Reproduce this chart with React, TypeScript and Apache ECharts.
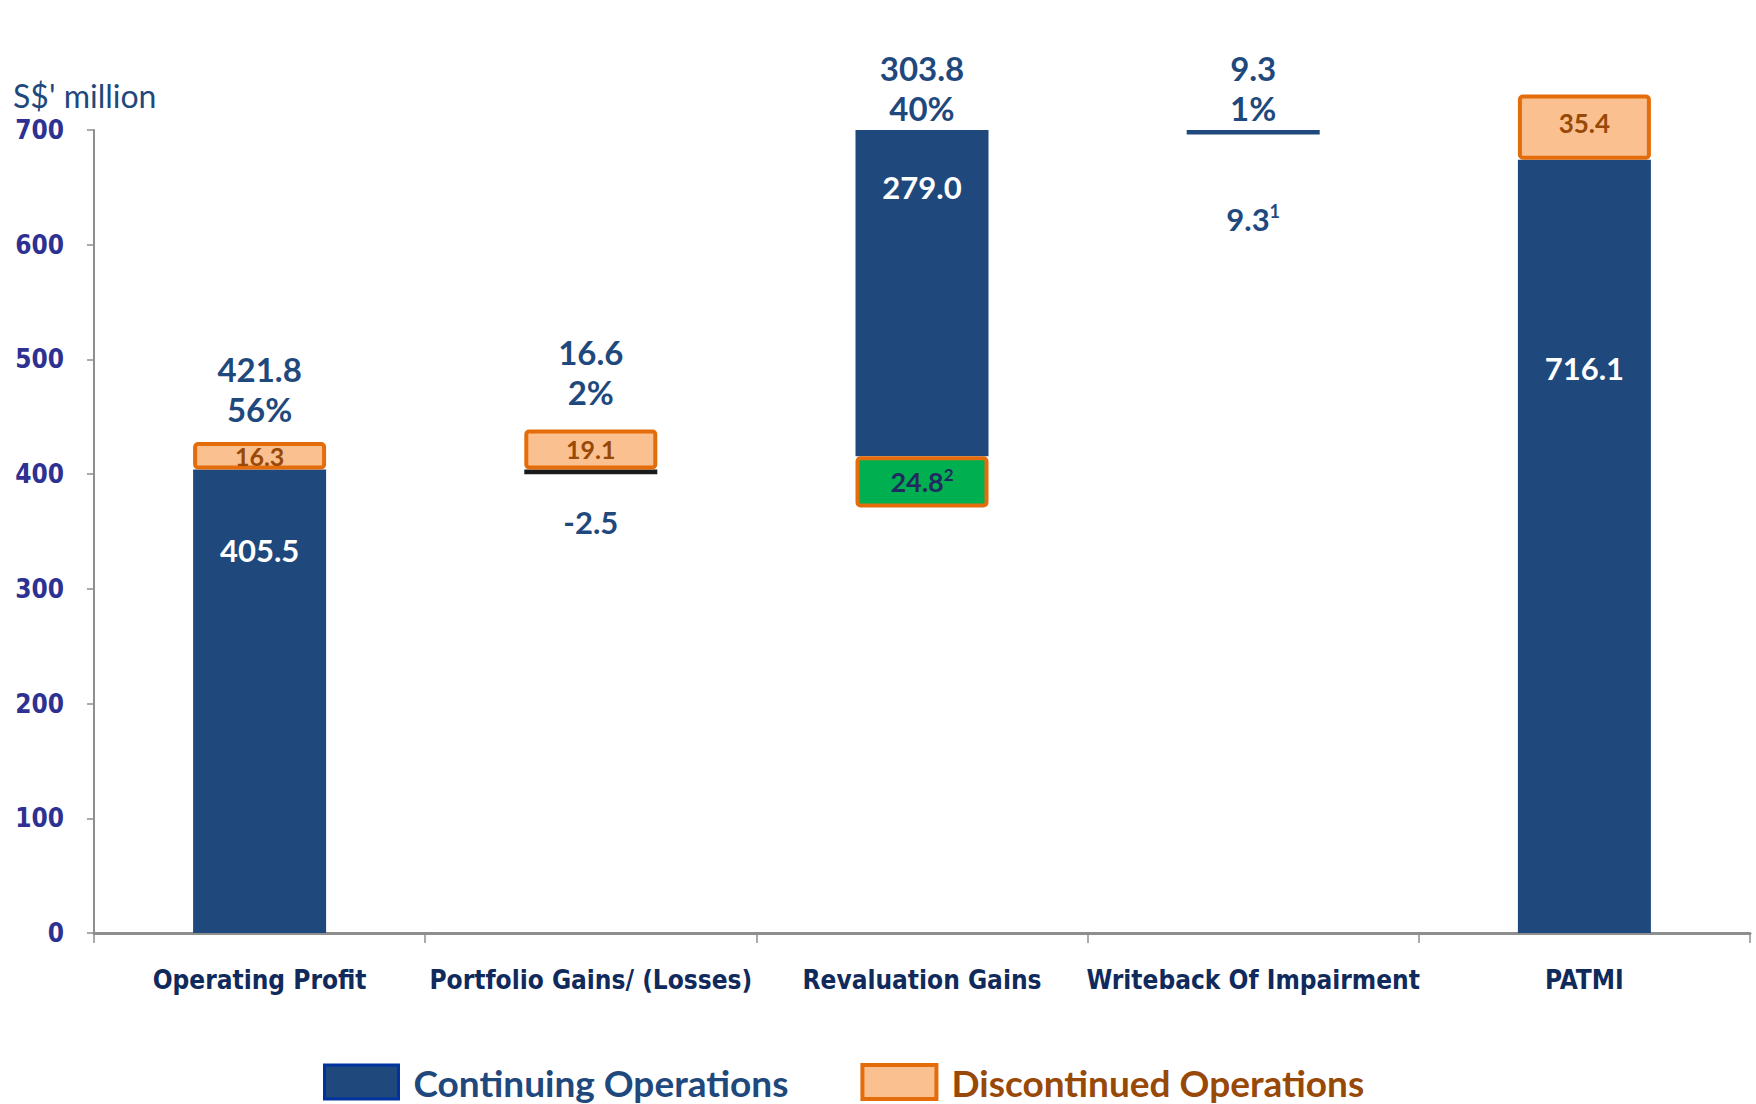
import React, { useEffect, useRef } from "react";
import * as echarts from "echarts";

// ---- data ----
const categories = [
  "Operating Profit",
  "Portfolio Gains/ (Losses)",
  "Revaluation Gains",
  "Writeback Of Impairment",
  "PATMI",
];
// drawn extents (in axis units) as they appear in the picture
const baseValues = [0, 400, 371, 696, 0];
const revalDiscValues: (number | null)[] = [null, null, 44.5, null, null];
const continuingValues = [404, 4, 284.5, 4, 674];
const discontinuedValues: (number | null)[] = [24, 35, null, null, 57];
const topValues = [428, 439, 700, 700, 731];
// printed figures
const totalLabels = ["421.8", "16.6", "303.8", "9.3", "751.5"];
const shareLabels = ["56%", "2%", "40%", "1%", "100%"];
const continuingLabels = ["405.5", "-2.5", "279.0", "9.3{s|1}", "716.1"];
const discontinuedLabels = ["16.3", "19.1", "", "", "35.4"];
const revalDiscLabels = ["", "", "24.8{s|2}", "", ""];

const BLUE = "#1F497D";
const ORANGE_FILL = "#FAC090";
const ORANGE_BORDER = "#E46C0A";
const BROWN = "#984807";
const LABEL_FONT = "Lato, 'Open Sans', 'DejaVu Sans', sans-serif";
const NARROW_FONT = "'Liberation Sans Narrow', 'DejaVu Sans Condensed', Roboto, 'Liberation Sans', sans-serif";

export default function App() {
  const ref = useRef<HTMLDivElement>(null);

  useEffect(() => {
    if (!ref.current) return;
    const chart = echarts.init(ref.current, undefined, { renderer: "svg" });

    const contOffsets = [80, 52, 57, 89, 208];
    const contColors = ["#FFFFFF", BLUE, "#FFFFFF", BLUE, "#FFFFFF"];
    const contItemColors = [BLUE, "#1A1A1A", BLUE, BLUE, BLUE];
    const topDistances = [13, 17, 2, 2, 8];
    const discFont = [25, 25, 25, 25, 26];
    const discOffsetY = [0, 0, 0, 0, -4];

    const option: any = {
      animation: false,
      backgroundColor: "#FFFFFF",
      title: {
        text: "S$' million",
        left: 8,
        top: 74,
        textStyle: { color: BLUE, fontSize: 32, fontWeight: "normal", fontFamily: LABEL_FONT },
      },
      legend: {
        left: 318,
        top: 1058,
        itemWidth: 74,
        itemHeight: 34,
        itemGap: 72,
        selectedMode: false,
        textStyle: { fontSize: 37, fontWeight: "bold", fontFamily: LABEL_FONT, padding: [0, 0, 0, 10] },
        data: [
          {
            name: "Continuing Operations",
            icon: "rect",
            itemStyle: { color: BLUE, borderColor: "#0033A0", borderWidth: 3 },
            textStyle: { color: BLUE },
          },
          {
            name: "Discontinued Operations",
            icon: "rect",
            itemStyle: { color: ORANGE_FILL, borderColor: ORANGE_BORDER, borderWidth: 4 },
            textStyle: { color: BROWN },
          },
        ],
      },
      grid: { left: 94, right: 6, top: 130, bottom: 171, containLabel: false },
      xAxis: {
        type: "category",
        data: categories,
        axisLine: { lineStyle: { color: "#8E8E8E", width: 3 } },
        axisTick: { show: true, length: 10, interval: 0, lineStyle: { color: "#8E8E8E", width: 1.5 } },
        axisLabel: {
          interval: 0,
          margin: 33,
          color: "#102A5C",
          fontSize: 26,
          lineHeight: 28,
          fontWeight: "bold",
          fontFamily: NARROW_FONT,
        },
      },
      yAxis: {
        type: "value",
        min: 0,
        max: 700,
        interval: 100,
        splitLine: { show: false },
        axisLine: { show: true, lineStyle: { color: "#8E8E8E", width: 2 } },
        axisTick: { show: true, length: 7, lineStyle: { color: "#8E8E8E", width: 1.5 } },
        axisLabel: {
          margin: 30,
          color: "#2E3192",
          fontSize: 26,
          fontWeight: "bold",
          fontFamily: NARROW_FONT,
        },
      },
      series: [
        {
          name: "base",
          type: "bar",
          stack: "w",
          barWidth: 133,
          silent: true,
          clip: false,
          itemStyle: { color: "rgba(0,0,0,0)" },
          data: baseValues,
        },
        {
          name: "Revaluation Discontinued",
          type: "bar",
          stack: "w",
          barWidth: 133,
          z: 4,
          clip: false,
          itemStyle: { color: "#00B050", borderColor: ORANGE_BORDER, borderWidth: 4, borderRadius: 3 },
          label: {
            show: true,
            position: "inside",
            color: "#1F2A60",
            fontSize: 27,
            fontWeight: "bold",
            fontFamily: LABEL_FONT,
            formatter: (p: any) => revalDiscLabels[p.dataIndex],
            rich: {
              s: { fontSize: 17, fontWeight: "bold", color: "#1F2A60", fontFamily: LABEL_FONT, padding: [0, 0, 14, 0] },
            },
          },
          data: revalDiscValues.map((v) => (v == null ? "-" : v)),
        },
        {
          name: "Continuing Operations",
          type: "bar",
          stack: "w",
          barWidth: 133,
          z: 2,
          clip: false,
          itemStyle: { color: BLUE },
          data: continuingValues.map((v, i) => ({
            value: v,
            itemStyle: { color: contItemColors[i] },
            label: {
              show: true,
              position: ["50%", contOffsets[i]],
              align: "center",
              verticalAlign: "middle",
              color: contColors[i],
              fontSize: 31,
              fontWeight: "bold",
              fontFamily: LABEL_FONT,
              formatter: continuingLabels[i],
              rich: {
                s: { fontSize: 18, fontWeight: "bold", color: contColors[i], fontFamily: LABEL_FONT, padding: [0, 0, 16, 0] },
              },
            },
          })),
        },
        {
          name: "Discontinued Operations",
          type: "bar",
          stack: "w",
          barWidth: 133,
          z: 4,
          clip: false,
          itemStyle: { color: ORANGE_FILL, borderColor: ORANGE_BORDER, borderWidth: 4, borderRadius: 3 },
          data: discontinuedValues.map((v, i) =>
            v == null
              ? "-"
              : {
                  value: v,
                  label: {
                    show: true,
                    position: "inside",
                    offset: [0, discOffsetY[i]],
                    color: BROWN,
                    fontSize: discFont[i],
                    fontWeight: "bold",
                    fontFamily: LABEL_FONT,
                    formatter: discontinuedLabels[i],
                  },
                }
          ),
        },
        {
          name: "totals",
          type: "scatter",
          symbolSize: 0,
          silent: true,
          z: 5,
          itemStyle: { color: BLUE, opacity: 1 },
          data: topValues.map((v, i) => ({
            value: v,
            label: {
              show: true,
              position: "top",
              distance: topDistances[i],
              color: BLUE,
              opacity: 1,
              fontSize: 33,
              lineHeight: 40,
              fontWeight: "bold",
              fontFamily: LABEL_FONT,
              align: "center",
              formatter: totalLabels[i] + "\n" + shareLabels[i],
            },
          })),
        },
      ],
    };

    chart.setOption(option);
    return () => chart.dispose();
  }, []);

  return (
    <div
      ref={ref}
      style={{ position: "fixed", left: 0, top: 0, width: 1756, height: 1104, background: "#fff" }}
    />
  );
}
